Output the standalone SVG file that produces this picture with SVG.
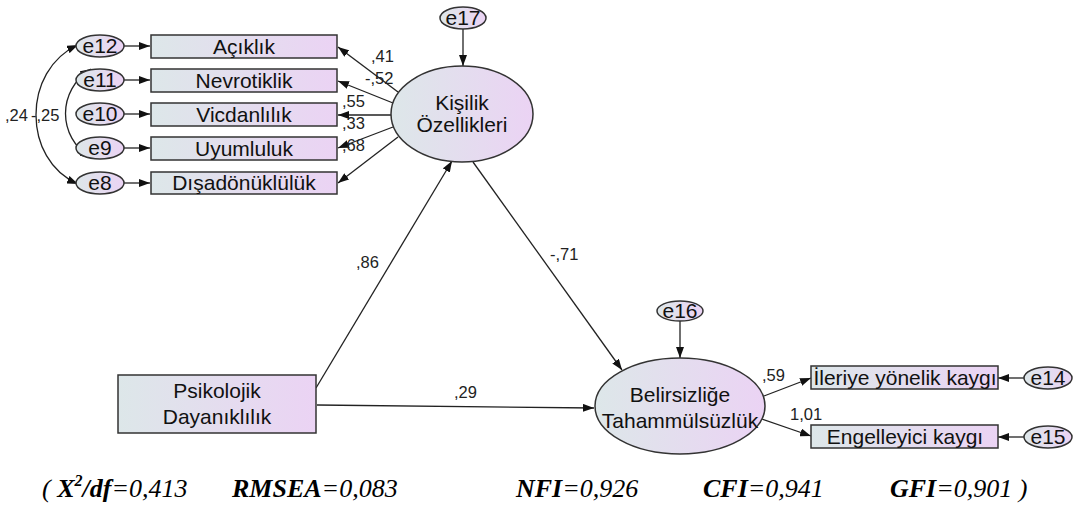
<svg xmlns="http://www.w3.org/2000/svg" width="1077" height="506" viewBox="0 0 1077 506">
<defs>
<linearGradient id="g" x1="0" y1="0" x2="1" y2="0">
<stop offset="0" stop-color="#dde7e9"/>
<stop offset="1" stop-color="#ebd3f4"/>
</linearGradient>
<marker id="ah" markerUnits="userSpaceOnUse" markerWidth="11" markerHeight="8" refX="11" refY="4" orient="auto-start-reverse">
<path d="M0,0 L11,4 L0,8 z" fill="#111"/>
</marker>
</defs>
<style>
.box{fill:url(#g);stroke:#333;stroke-width:1.5}
.lbl{font-family:"Liberation Sans",Arial,sans-serif;font-size:21px;fill:#111;text-anchor:middle}
.num{font-family:"Liberation Sans",Arial,sans-serif;font-size:16.5px;fill:#222}
.ln{fill:none;stroke:#222;stroke-width:1.3;marker-end:url(#ah)}
.cov{fill:none;stroke:#222;stroke-width:1.3;marker-start:url(#ah);marker-end:url(#ah)}
.ft{font-family:"Liberation Serif","Times New Roman",serif;font-size:26px;font-style:italic;fill:#000}
.b{font-weight:bold}
</style>

<g id="connectors">
<path class="cov" d="M78,45 C22,70 22,160 78,184"/>
<path class="cov" d="M91,69 C57,90 57,137 91,158"/>
<path class="ln" d="M124,46 L150,46"/>
<path class="ln" d="M124,80 L150,80"/>
<path class="ln" d="M124,114 L150,114"/>
<path class="ln" d="M124,148 L150,148"/>
<path class="ln" d="M124,183 L150,183"/>
<path class="ln" d="M398,92 L338,47"/>
<path class="ln" d="M393,103 L338,81"/>
<path class="ln" d="M391,115 L338,115"/>
<path class="ln" d="M393,127 L338,148"/>
<path class="ln" d="M398,137 L338,183"/>
<path class="ln" d="M463,29 L463,66"/>
<path class="ln" d="M316,388 L452,161"/>
<path class="ln" d="M473,162 L622,370"/>
<path class="ln" d="M317,405 L594,408"/>
<path class="ln" d="M680,321 L680,358"/>
<path class="ln" d="M764,396 L811,378"/>
<path class="ln" d="M762,419 L811,436"/>
<path class="ln" d="M1024,378 L998,378"/>
<path class="ln" d="M1024,437 L998,437"/>
<text class="num" x="371" y="62">,41</text>
<text class="num" x="365" y="84">-,52</text>
<text class="num" x="342" y="107">,55</text>
<text class="num" x="342" y="129">,33</text>
<text class="num" x="342" y="151">,68</text>
<text class="num" x="5" y="121">,24</text>
<text class="num" x="31" y="121">-,25</text>
<text class="num" x="356" y="268">,86</text>
<text class="num" x="550" y="260">-,71</text>
<text class="num" x="454" y="398">,29</text>
<text class="num" x="762" y="381">,59</text>
<text class="num" x="790" y="420">1,01</text>
</g>

<g id="e12"><ellipse class="box" cx="100" cy="46" rx="24" ry="11"/><text class="lbl" x="100" y="53">e12</text></g>
<g id="e11"><ellipse class="box" cx="100" cy="80" rx="24" ry="11"/><text class="lbl" x="100" y="87">e11</text></g>
<g id="e10"><ellipse class="box" cx="100" cy="114" rx="24" ry="11"/><text class="lbl" x="100" y="121">e10</text></g>
<g id="e9"><ellipse class="box" cx="100" cy="148" rx="24" ry="11"/><text class="lbl" x="100" y="155">e9</text></g>
<g id="e8"><ellipse class="box" cx="100" cy="183" rx="24" ry="11"/><text class="lbl" x="100" y="190">e8</text></g>

<g id="aciklik"><rect class="box" x="151" y="35" width="186" height="23"/><text class="lbl" x="244" y="54">Açıklık</text></g>
<g id="nevrotiklik"><rect class="box" x="151" y="69" width="186" height="23"/><text class="lbl" x="244" y="88">Nevrotiklik</text></g>
<g id="vicdanlilik"><rect class="box" x="151" y="103" width="186" height="23"/><text class="lbl" x="244" y="122">Vicdanlılık</text></g>
<g id="uyumluluk"><rect class="box" x="151" y="137" width="186" height="23"/><text class="lbl" x="244" y="156">Uyumluluk</text></g>
<g id="disadonukluluk"><rect class="box" x="151" y="172" width="186" height="22"/><text class="lbl" x="244" y="190">Dışadönüklülük</text></g>

<g id="e17"><ellipse class="box" cx="463" cy="18" rx="23" ry="11"/><text class="lbl" x="463" y="25">e17</text></g>
<g id="kisilik"><ellipse class="box" cx="462" cy="114" rx="71" ry="48"/><text class="lbl" x="462" y="110">Kişilik</text><text class="lbl" x="462" y="132">Özellikleri</text></g>

<g id="psikolojik"><rect class="box" x="118" y="375" width="198" height="58"/><text class="lbl" x="217" y="398">Psikolojik</text><text class="lbl" x="217" y="424">Dayanıklılık</text></g>

<g id="e16"><ellipse class="box" cx="680" cy="311" rx="23" ry="10"/><text class="lbl" x="680" y="318">e16</text></g>
<g id="belirsizlige"><ellipse class="box" cx="680" cy="406" rx="85" ry="48"/><text class="lbl" x="680" y="402">Belirsizliğe</text><text class="lbl" x="680" y="428">Tahammülsüzlük</text></g>

<g id="ileriye"><rect class="box" x="811" y="366" width="187" height="23"/><text class="lbl" x="905" y="385">İleriye yönelik kaygı</text></g>
<g id="engelleyici"><rect class="box" x="811" y="425" width="187" height="23"/><text class="lbl" x="905" y="444">Engelleyici kaygı</text></g>
<g id="e14"><ellipse class="box" cx="1048" cy="378" rx="24" ry="11"/><text class="lbl" x="1048" y="385">e14</text></g>
<g id="e15"><ellipse class="box" cx="1048" cy="437" rx="24" ry="11"/><text class="lbl" x="1048" y="444">e15</text></g>

<g id="fit">
<text class="ft" x="42" y="497">( <tspan class="b">X</tspan><tspan class="b" font-size="16" dy="-11">2</tspan><tspan class="b" dy="11">/df</tspan>=0,413</text>
<text class="ft" x="232" y="497"><tspan class="b">RMSEA</tspan>=0,083</text>
<text class="ft" x="516" y="497"><tspan class="b">NFI</tspan>=0,926</text>
<text class="ft" x="703" y="497"><tspan class="b">CFI</tspan>=0,941</text>
<text class="ft" x="890" y="497"><tspan class="b">GFI</tspan>=0,901 )</text>
</g>
</svg>
